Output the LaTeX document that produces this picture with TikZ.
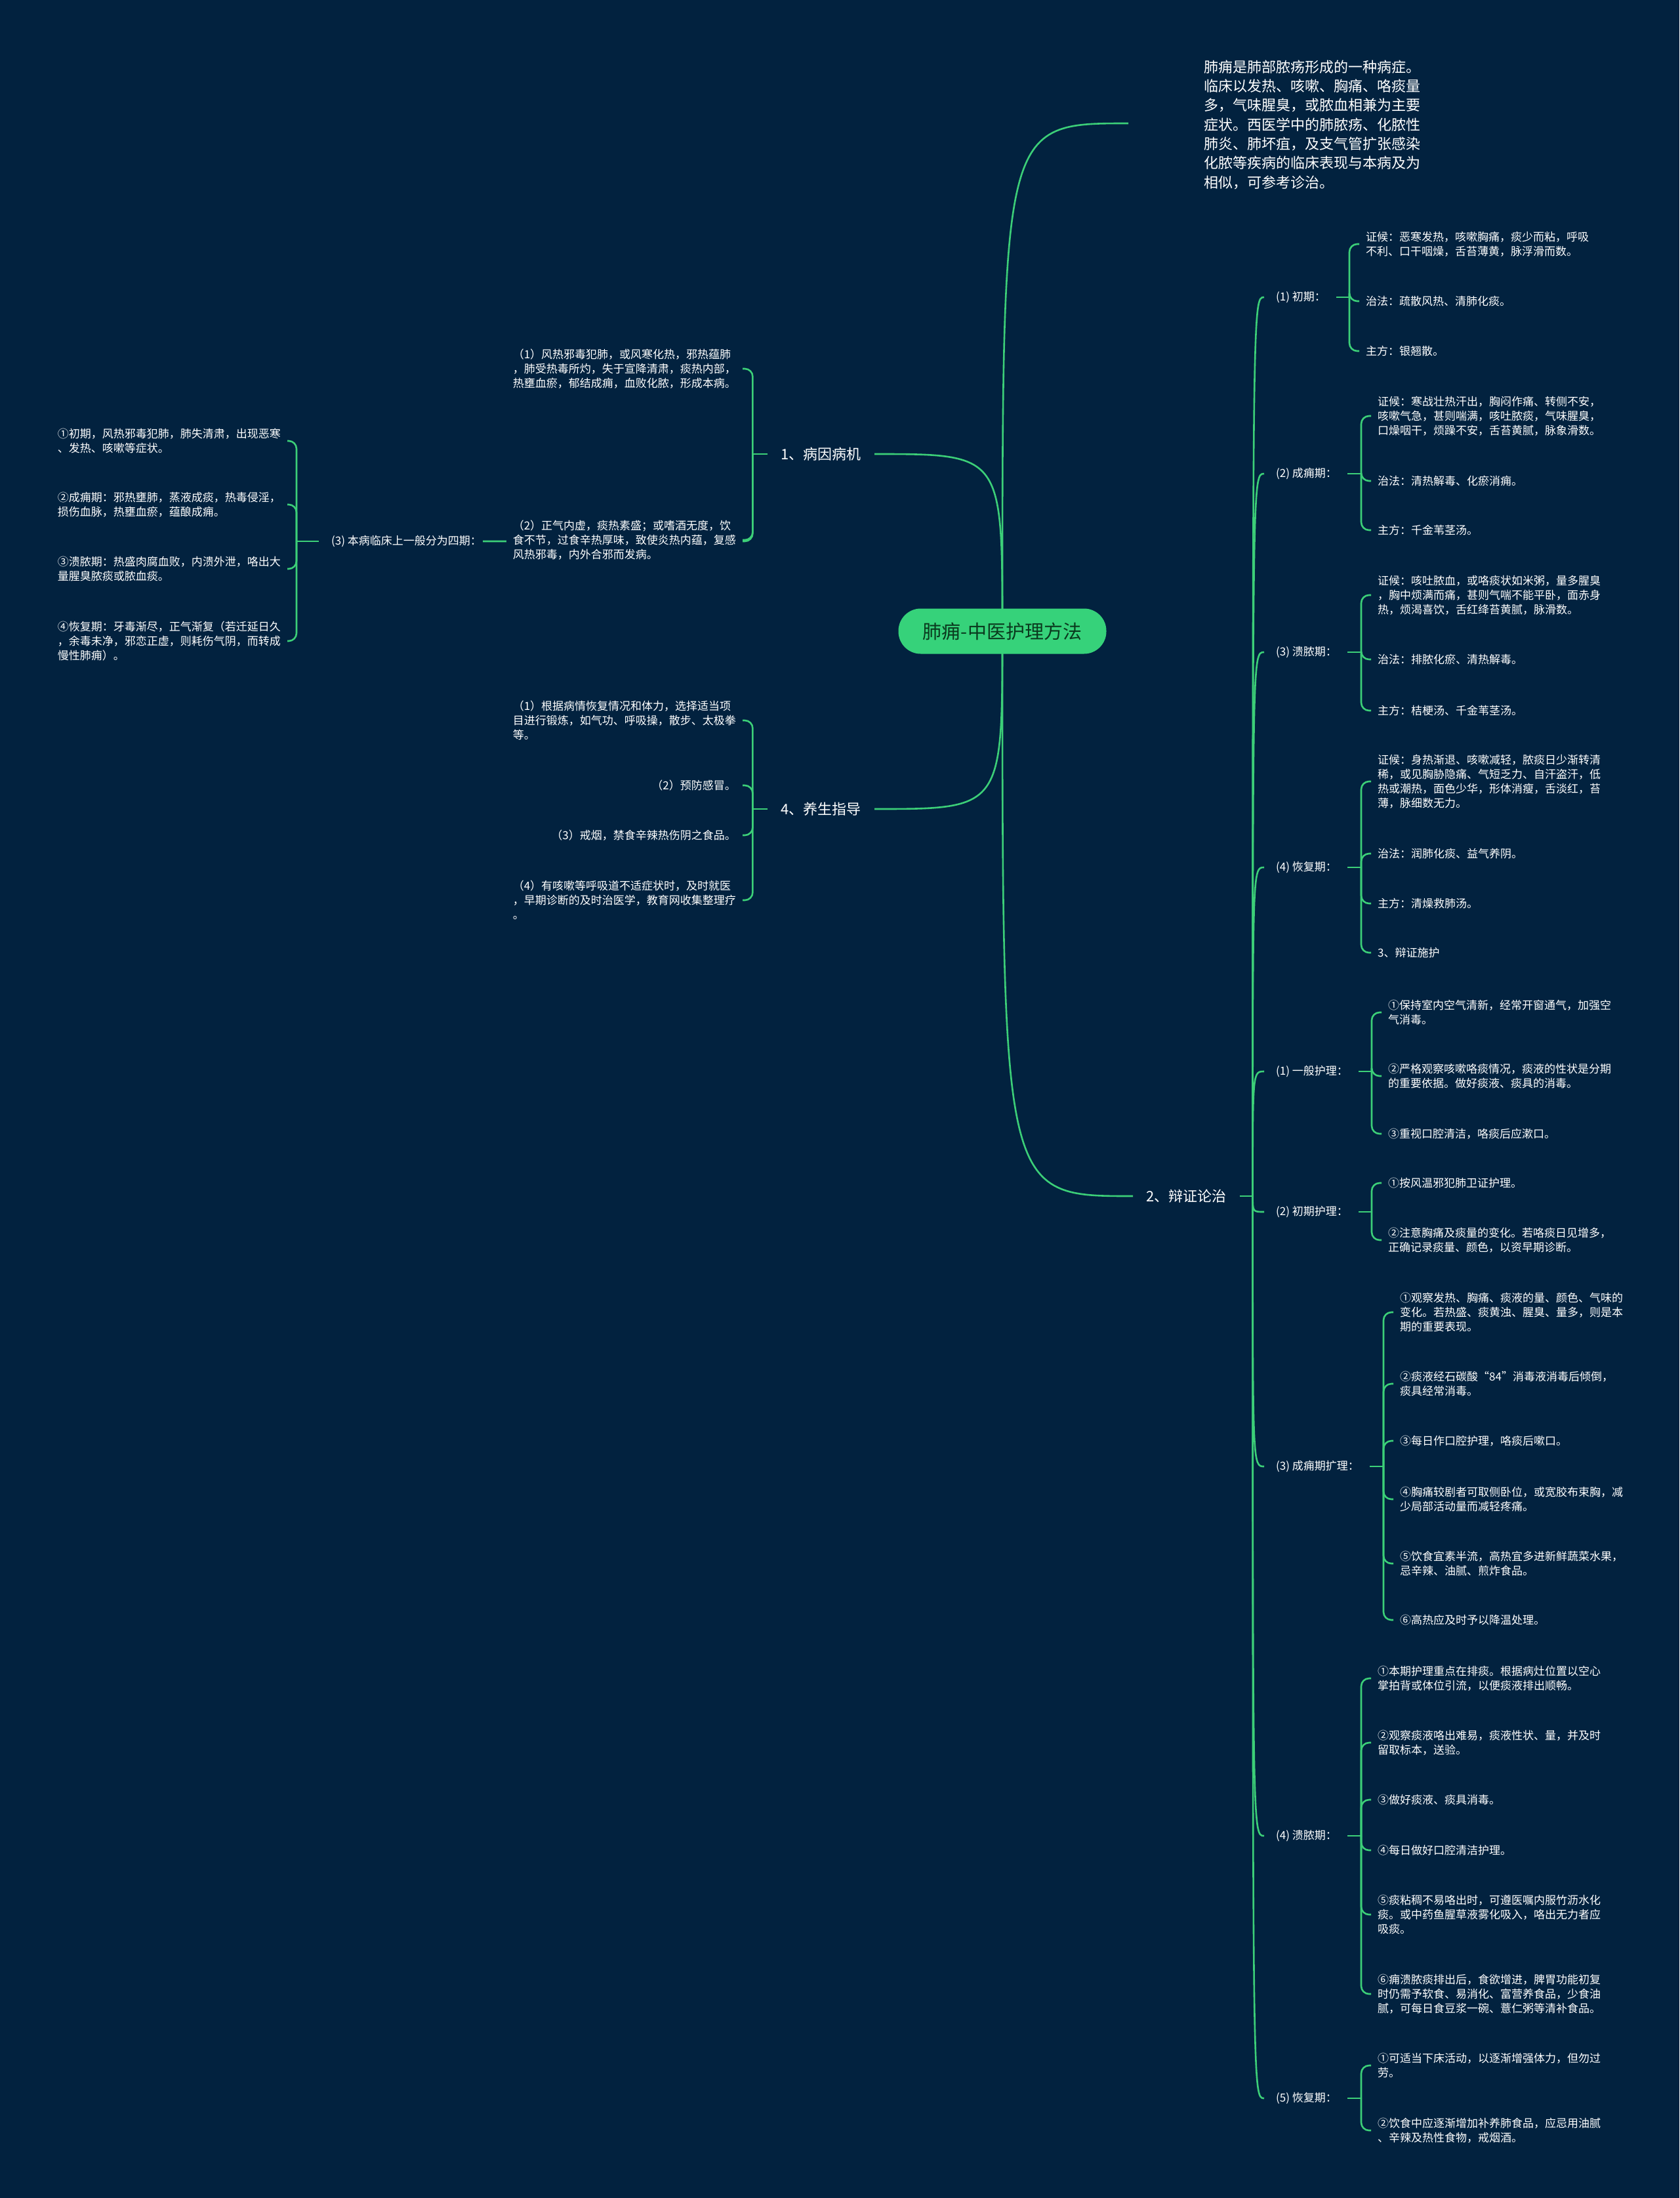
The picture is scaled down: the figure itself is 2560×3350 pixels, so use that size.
\documentclass[tikz,border=0pt]{standalone}
\usepackage{fontspec}
\setmainfont{Noto Sans CJK SC}
\usepackage{xcolor}
\usetikzlibrary{positioning, calc}
\pgfdeclarelayer{fundo}
\pgfdeclarelayer{ligacoes}
\pgfsetlayers{fundo,ligacoes,main}

\begin{document}
\begin{tikzpicture}[x=1pt, y=-1pt,
  ramo/.style={draw=linha, line width=2.6pt},
  chave/.style={draw=linha, line width=2.6pt, rounded corners=12pt},
  folha/.style={text=white, font=\fontsize{17pt}{22pt}\selectfont, align=left, inner xsep=10pt, inner ysep=2pt},
  rotulo/.style={text=white, font=\fontsize{17pt}{22pt}\selectfont, inner sep=2pt},
  topico/.style={text=white, font=\fontsize{22pt}{28pt}\selectfont, inner xsep=20pt, inner ysep=4pt},
  raiz/.style={fill=verde, text=verdeEscuro, rounded corners=34pt, minimum width=317pt, minimum height=69pt, inner sep=0pt, font=\fontsize{29pt}{34pt}\selectfont}]
% --- MAPA MENTAL: FUNDO ESCURO, RAMOS VERDES ---
\definecolor{noite}{HTML}{02223F}
\definecolor{linha}{HTML}{3CCF78}
\definecolor{verde}{HTML}{36D27A}
\definecolor{verdeEscuro}{HTML}{0A3A1E}

% LAYER 1: Fundo
\begin{pgfonlayer}{fundo}
\fill[noite] (0,0) rectangle (2560,3350);
\end{pgfonlayer}
\useasboundingbox (0,0) rectangle (2560,3350);

% LAYER 2: Raiz e topicos
\node[raiz] (raiz) at (1528,962) {肺痈-中医护理方法};
\node[text=white, align=left, anchor=west, inner sep=0pt, font=\fontsize{22pt}{29.3pt}\selectfont] (intro) at (1835,190) {肺痈是肺部脓疡形成的一种病症。\\临床以发热、咳嗽、胸痛、咯痰量\\多，气味腥臭，或脓血相兼为主要\\症状。西医学中的肺脓疡、化脓性\\肺炎、肺坏疽，及支气管扩张感染\\化脓等疾病的临床表现与本病及为\\相似，可参考诊治。};
\coordinate (introin) at (1720,188);
\node[topico, anchor=east] (causa) at (1333,692) {1、病因病机};
\node[topico, anchor=east] (cuidado) at (1333,1233) {4、养生指导};
\node[topico, anchor=west] (dialetica) at (1727,1823) {2、辩证论治};

% LAYER 3: Ramo direito (辩证论治)
\node[rotulo, anchor=west] (r1) at (1943,453) {(1) 初期：};
\node[rotulo, anchor=west] (r2) at (1943,722) {(2) 成痈期：};
\node[rotulo, anchor=west] (r3) at (1943,994) {(3) 溃脓期：};
\node[rotulo, anchor=west] (r4) at (1943,1322) {(4) 恢复期：};
\node[rotulo, anchor=west] (r5) at (1943,1633) {(1) 一般护理：};
\node[rotulo, anchor=west] (r6) at (1943,1847) {(2) 初期护理：};
\node[rotulo, anchor=west] (r7) at (1943,2235) {(3) 成痈期扩理：};
\node[rotulo, anchor=west] (r8) at (1943,2798) {(4) 溃脓期：};
\node[rotulo, anchor=west] (r9) at (1943,3198) {(5) 恢复期：};

\coordinate (j1) at (2057,453);
\coordinate (j2) at (2075,722);
\coordinate (j3) at (2075,994);
\coordinate (j4) at (2075,1322);
\coordinate (j5) at (2091,1633);
\coordinate (j6) at (2091,1847);
\coordinate (j7) at (2109,2235);
\coordinate (j8) at (2075,2798);
\coordinate (j9) at (2075,3198);

\node[folha, anchor=west] (f11) at (2072,372) {证候：恶寒发热，咳嗽胸痛，痰少而粘，呼吸\\不利、口干咽燥，舌苔薄黄，脉浮滑而数。};
\node[folha, anchor=west] (f12) at (2072,459) {治法：疏散风热、清肺化痰。};
\node[folha, anchor=west] (f13) at (2072,535) {主方：银翘散。};

\node[folha, anchor=west] (f21) at (2090,634) {证候：寒战壮热汗出，胸闷作痛、转侧不安，\\咳嗽气急，甚则喘满，咳吐脓痰，气味腥臭，\\口燥咽干，烦躁不安，舌苔黄腻，脉象滑数。};
\node[folha, anchor=west] (f22) at (2090,733) {治法：清热解毒、化瘀消痈。};
\node[folha, anchor=west] (f23) at (2090,808) {主方：千金苇茎汤。};

\node[folha, anchor=west] (f31) at (2090,907) {证候：咳吐脓血，或咯痰状如米粥，量多腥臭\\，胸中烦满而痛，甚则气喘不能平卧，面赤身\\热，烦渴喜饮，舌红绛苔黄腻，脉滑数。};
\node[folha, anchor=west] (f32) at (2090,1005) {治法：排脓化瘀、清热解毒。};
\node[folha, anchor=west] (f33) at (2090,1083) {主方：桔梗汤、千金苇茎汤。};

\node[folha, anchor=west] (f41) at (2090,1191) {证候：身热渐退、咳嗽减轻，脓痰日少渐转清\\稀，或见胸胁隐痛、气短乏力、自汗盗汗，低\\热或潮热，面色少华，形体消瘦，舌淡红，苔\\薄，脉细数无力。};
\node[folha, anchor=west] (f42) at (2090,1301) {治法：润肺化痰、益气养阴。};
\node[folha, anchor=west] (f43) at (2090,1377) {主方：清燥救肺汤。};
\node[folha, anchor=west] (f44) at (2090,1452) {3、辩证施护};

\node[folha, anchor=west] (f51) at (2106,1543) {①保持室内空气清新，经常开窗通气，加强空\\气消毒。};
\node[folha, anchor=west] (f52) at (2106,1640) {②严格观察咳嗽咯痰情况，痰液的性状是分期\\的重要依据。做好痰液、痰具的消毒。};
\node[folha, anchor=west] (f53) at (2106,1728) {③重视口腔清洁，咯痰后应漱口。};

\node[folha, anchor=west] (f61) at (2106,1803) {①按风温邪犯肺卫证护理。};
\node[folha, anchor=west] (f62) at (2106,1890) {②注意胸痛及痰量的变化。若咯痰日见增多，\\正确记录痰量、颜色，以资早期诊断。};

\node[folha, anchor=west] (f71) at (2124,2000) {①观察发热、胸痛、痰液的量、颜色、气味的\\变化。若热盛、痰黄浊、腥臭、量多，则是本\\期的重要表现。};
\node[folha, anchor=west] (f72) at (2124,2109) {②痰液经石碳酸“84”消毒液消毒后倾倒，\\痰具经常消毒。};
\node[folha, anchor=west] (f73) at (2124,2196) {③每日作口腔护理，咯痰后嗽口。};
\node[folha, anchor=west] (f74) at (2124,2285) {④胸痛较剧者可取侧卧位，或宽胶布束胸，减\\少局部活动量而减轻疼痛。};
\node[folha, anchor=west] (f75) at (2124,2383) {⑤饮食宜素半流，高热宜多进新鲜蔬菜水果，\\忌辛辣、油腻、煎炸食品。};
\node[folha, anchor=west] (f76) at (2124,2469) {⑥高热应及时予以降温处理。};

\node[folha, anchor=west] (f81) at (2090,2558) {①本期护理重点在排痰。根据病灶位置以空心\\掌拍背或体位引流，以便痰液排出顺畅。};
\node[folha, anchor=west] (f82) at (2090,2656) {②观察痰液咯出难易，痰液性状、量，并及时\\留取标本，送验。};
\node[folha, anchor=west] (f83) at (2090,2743) {③做好痰液、痰具消毒。};
\node[folha, anchor=west] (f84) at (2090,2820) {④每日做好口腔清洁护理。};
\node[folha, anchor=west] (f85) at (2090,2918) {⑤痰粘稠不易咯出时，可遵医嘱内服竹沥水化\\痰。或中药鱼腥草液雾化吸入，咯出无力者应\\吸痰。};
\node[folha, anchor=west] (f86) at (2090,3039) {⑥痈溃脓痰排出后，食欲增进，脾胃功能初复\\时仍需予软食、易消化、富营养食品，少食油\\腻，可每日食豆浆一碗、薏仁粥等清补食品。};

\node[folha, anchor=west] (f91) at (2090,3148) {①可适当下床活动，以逐渐增强体力，但勿过\\劳。};
\node[folha, anchor=west] (f92) at (2090,3247) {②饮食中应逐渐增加补养肺食品，应忌用油腻\\、辛辣及热性食物，戒烟酒。};

% LAYER 4: Ramos esquerdos (病因病机, 养生指导)
\node[folha, anchor=east] (c1) at (1132,562) {（1）风热邪毒犯肺，或风寒化热，邪热蕴肺\\，肺受热毒所灼，失于宣降清肃，痰热内部，\\热壅血瘀，郁结成痈，血败化脓，形成本病。};
\node[folha, anchor=east, fill=noite] (c2) at (1132,823) {（2）正气内虚，痰热素盛；或嗜酒无度，饮\\食不节，过食辛热厚味，致使炎热内蕴，复感\\风热邪毒，内外合邪而发病。};
\node[rotulo, anchor=east] (c3) at (736,825) {(3) 本病临床上一般分为四期：};
\coordinate (jq) at (452,825);
\node[folha, anchor=east] (q1) at (438,672) {①初期，风热邪毒犯肺，肺失清肃，出现恶寒\\、发热、咳嗽等症状。};
\node[folha, anchor=east] (q2) at (438,769) {②成痈期：邪热壅肺，蒸液成痰，热毒侵淫，\\损伤血脉，热壅血瘀，蕴酿成痈。};
\node[folha, anchor=east] (q3) at (438,867) {③溃脓期：热盛肉腐血败，内溃外泄，咯出大\\量腥臭脓痰或脓血痰。};
\node[folha, anchor=east] (q4) at (438,977) {④恢复期：牙毒渐尽，正气渐复（若迁延日久\\，余毒未净，邪恋正虚，则耗伤气阴，而转成\\慢性肺痈）。};

\node[folha, anchor=east] (g1) at (1132,1098) {（1）根据病情恢复情况和体力，选择适当项\\目进行锻炼，如气功、呼吸操，散步、太极拳\\等。};
\node[folha, anchor=east] (g2) at (1132,1197) {（2）预防感冒。};
\node[folha, anchor=east] (g3) at (1132,1273) {（3）戒烟，禁食辛辣热伤阴之食品。};
\node[folha, anchor=east] (g4) at (1132,1372) {（4）有咳嗽等呼吸道不适症状时，及时就医\\，早期诊断的及时治医学，教育网收集整理疗\\。};

% LAYER 5: Ligacoes (atras dos textos)
\begin{pgfonlayer}{ligacoes}
\draw[ramo] (raiz.center) .. controls (raiz |- introin) .. (introin);
\draw[ramo] (raiz.center) .. controls (raiz |- causa.east) .. (causa.east);
\draw[ramo] (raiz.center) .. controls (raiz |- cuidado.east) .. (cuidado.east);
\draw[ramo] (raiz.center) .. controls (raiz |- dialetica.west) .. (dialetica.west);

\draw[ramo] (dialetica.east) -- ++(20,0) coordinate (tronco);
\foreach \r in {r1,r2,r3,r4,r5,r6,r7,r8,r9}
  \draw[ramo] (tronco) .. controls (tronco |- \r.west) .. ([xshift=-16pt]\r.west);
\foreach \r/\j in {r1/j1,r2/j2,r3/j3,r4/j4,r5/j5,r6/j6,r7/j7,r8/j8,r9/j9}
  \draw[ramo] ([xshift=14pt]\r.east) -- (\j);

\foreach \f in {f11,f12,f13} \draw[chave] (j1) |- (\f.west);
\foreach \f in {f21,f22,f23} \draw[chave] (j2) |- (\f.west);
\foreach \f in {f31,f32,f33} \draw[chave] (j3) |- (\f.west);
\foreach \f in {f41,f42,f43,f44} \draw[chave] (j4) |- (\f.west);
\foreach \f in {f51,f52,f53} \draw[chave] (j5) |- (\f.west);
\foreach \f in {f61,f62} \draw[chave] (j6) |- (\f.west);
\foreach \f in {f71,f72,f73,f74,f75,f76} \draw[chave] (j7) |- (\f.west);
\foreach \f in {f81,f82,f83,f84,f85,f86} \draw[chave] (j8) |- (\f.west);
\foreach \f in {f91,f92} \draw[chave] (j9) |- (\f.west);

\draw[ramo] (causa.west) -- ++(-23,0) coordinate (jc);
\foreach \f in {c1,c2,c3} \draw[chave] (jc) |- (\f.east);
\draw[ramo] ([xshift=-17pt]c3.west) -- (jq);
\foreach \f in {q1,q2,q3,q4} \draw[chave] (jq) |- (\f.east);

\draw[ramo] (cuidado.west) -- ++(-23,0) coordinate (jg);
\foreach \f in {g1,g2,g3,g4} \draw[chave] (jg) |- (\f.east);
\end{pgfonlayer}
\end{tikzpicture}
\end{document}
